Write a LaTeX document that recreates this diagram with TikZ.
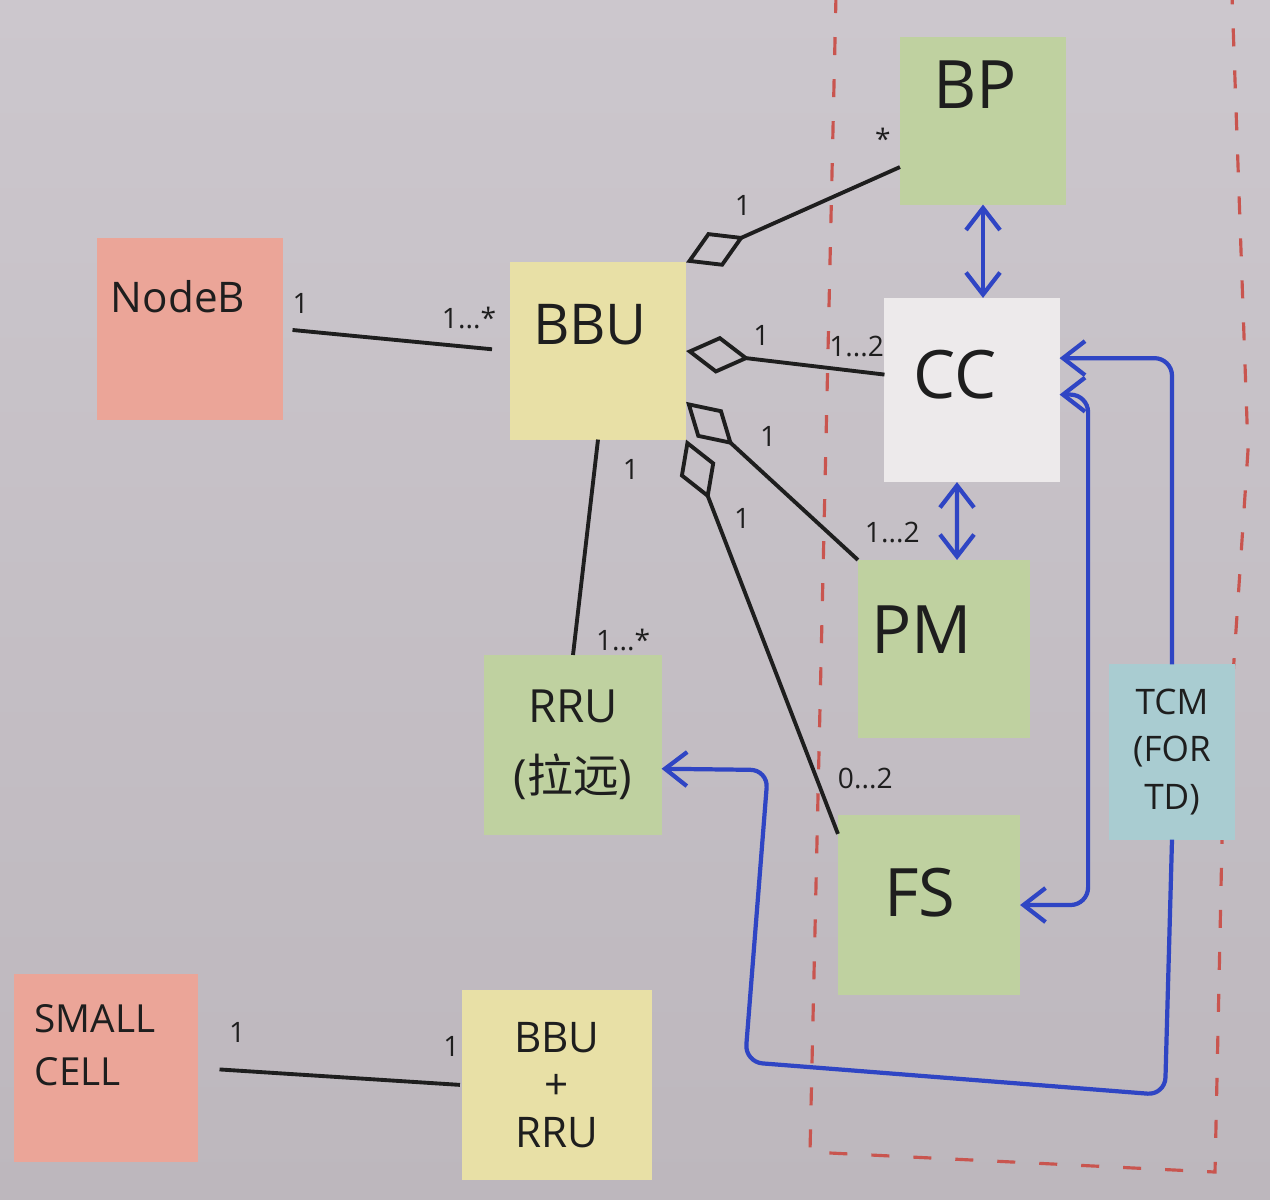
\documentclass[tikz,border=0pt]{standalone}
\usepackage{fontspec}
\setmainfont{Open Sans}
\newfontfamily\cjk{Noto Sans CJK SC}
\usepackage{tikz}
\usetikzlibrary{arrows.meta,positioning,calc}
\definecolor{boardtop}{HTML}{CCC7CD}
\definecolor{boardbot}{HTML}{BDB7BD}
\definecolor{notered}{HTML}{EBA598}
\definecolor{noteyellow}{HTML}{E8E0A6}
\definecolor{notegreen}{HTML}{BFD1A0}
\definecolor{notewhite}{HTML}{EDEAEB}
\definecolor{noteblue}{HTML}{A9CCD1}
\definecolor{inkblack}{HTML}{1E1E1E}
\definecolor{penblue}{HTML}{2F45C4}
\definecolor{penred}{HTML}{C9554F}

\begin{document}
\begin{tikzpicture}[
    x=0.01cm, y=-0.01cm,
    >={Straight Barb[length=0.22cm,width=0.34cm]},
    % Estilos
    note/.style={inner sep=0pt, outer sep=0pt, align=center, text=inkblack},
    big/.style={font=\fontsize{19}{22}\selectfont, text=inkblack},
    mid/.style={font=\fontsize{15}{19}\selectfont, text=inkblack},
    small/.style={font=\fontsize{11}{15}\selectfont, text=inkblack},
    mult/.style={font=\fontsize{8}{10}\selectfont, text=inkblack, inner sep=1.5pt},
    link/.style={draw=inkblack, line width=1.1pt},
    agg/.style={link, {Diamond[open,length=0.64cm,width=0.38cm]}-},
    blu/.style={draw=penblue, line width=1.2pt, rounded corners=5pt},
    zone/.style={draw=penred, line width=0.9pt, dash pattern=on 0.18cm off 0.24cm}
]

% --- FONDO ---
\useasboundingbox (0,0) rectangle (1270,1199);
\fill[top color=boardtop, bottom color=boardbot] (0,0) rectangle (1270,1199);

% --- ZONA ---
\draw[zone] (836,-5) -- (810,1152) -- (1215,1172) -- (1222,840) -- (1248,450) -- (1232,-5);

% --- NOTAS ---
\node[note, fill=notered, minimum width=1.85cm, minimum height=1.82cm,
      label={[mid, font=\fontsize{12}{15}\selectfont, xshift=-0.12cm, yshift=0.32cm]center:NodeB}] (nodeb) at (190,329) {};
\node[note, fill=noteyellow, minimum width=1.76cm, minimum height=1.77cm,
      label={[mid, font=\fontsize{16}{20}\selectfont, xshift=-0.08cm, yshift=0.26cm]center:BBU}] (bbu) at (598,351) {};
\node[note, fill=notegreen, minimum width=1.66cm, minimum height=1.67cm,
      label={[big, xshift=-0.08cm, yshift=0.36cm]center:BP}] (bp) at (983,121) {};
\node[note, fill=notewhite, minimum width=1.75cm, minimum height=1.84cm,
      label={[big, xshift=-0.17cm, yshift=0.15cm]center:CC}] (cc) at (972,390) {};
\node[note, fill=notegreen, minimum width=1.72cm, minimum height=1.78cm,
      label={[big, xshift=-0.22cm, yshift=0.19cm]center:PM}] (pm) at (944,649) {};
\node[note, fill=notegreen, minimum width=1.82cm, minimum height=1.80cm,
      label={[big, xshift=-0.09cm, yshift=0.12cm]center:FS}] (fs) at (929,905) {};
\node[note, fill=notegreen, minimum width=1.77cm, minimum height=1.80cm, mid,
      font=\fontsize{13}{20}\selectfont] (rru) at (573,745) {RRU\\({\cjk 拉远})};
\node[note, fill=noteblue, minimum width=1.25cm, minimum height=1.75cm, small,
      font=\fontsize{10}{13.5}\selectfont] (tcm) at (1172,752) {TCM\\(FOR\\TD)};
\node[note, fill=notered, minimum width=1.83cm, minimum height=1.87cm,
      label={[small, font=\fontsize{11}{15}\selectfont, align=left, xshift=-0.11cm, yshift=0.23cm]center:SMALL\\CELL}] (smallcell) at (106,1068) {};
\node[note, fill=noteyellow, minimum width=1.90cm, minimum height=1.90cm, mid,
      font=\fontsize{12}{13.5}\selectfont] (bburru) at (557,1085) {BBU\\+\\RRU};

% --- ASOCIACIONES ---
\draw[link, shorten <=0.1cm, shorten >=0.18cm] (nodeb.east) --
    node[mult, pos=0.08, above=3pt] {1}
    node[mult, pos=0.82, above=3pt] {1...*} (bbu.west);
\draw[link] (bbu.south) --
    node[mult, pos=0.14, right=6pt] {1}
    node[mult, pos=0.93, right=4pt] {1...*} (rru.north);
\draw[link, shorten <=0.22cm, shorten >=0.02cm] (smallcell.east) --
    node[mult, pos=0.15, above=6pt] {1}
    node[mult, pos=0.96, above=6pt] {1} (bburru.west);

\draw[agg] (bbu.north east) --
    node[mult, pos=0.36, above left=2pt] {1}
    node[mult, pos=0.92, above=5pt] {*} (bp.209);
\draw[agg] (bbu.east) --
    node[mult, pos=0.38, above=2pt] {1}
    node[mult, pos=0.86, above=2pt] {1...2} (cc.170);
\draw[agg] (bbu.-30) --
    node[mult, pos=0.36, above right=2pt] {1}
    node[mult, pos=0.97, above right=2pt] {1...2} (pm.north west);
\draw[agg] (bbu.south east) --
    node[mult, pos=0.2, right=3pt] {1}
    node[mult, pos=0.86, right=4pt] {0...2} (fs.142);

% --- FLECHAS AZULES ---
\draw[blu, <->] (bp.south) -- (bp.south |- cc.north);
\draw[blu, <->] ([xshift=-0.15cm]cc.south) -- ([xshift=0.13cm]pm.north);
\draw[blu, ->] (tcm.north) |- (cc.20);
\draw[blu, <->] (cc.-3) -| ([xshift=0.68cm]fs.east) -- (fs.east);
\coordinate (lowr) at (1165,1095);
\coordinate (lowl) at (745,1062);
\coordinate (upl) at (768,770);
\draw[blu, ->] (tcm.south) -- (lowr) -- (lowl) -- (upl) -- (rru.-15);

\end{tikzpicture}
\end{document}
